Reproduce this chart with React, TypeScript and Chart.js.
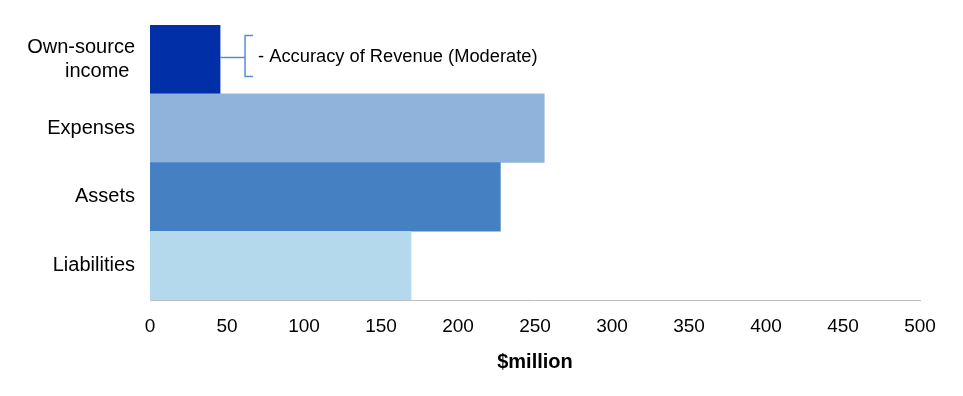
import React, { useEffect, useRef } from "react";
import { Chart, registerables } from "chart.js";

Chart.register(...registerables);

const categories: (string | string[])[] = [["Own-source", "income "], "Expenses", "Assets", "Liabilities"];
const values: number[] = [45.5, 256, 227.5, 169.5];
const barColors: string[] = ["#002FA7", "#8FB3DB", "#4580C3", "#B4D8EC"];
const xTicks: number[] = [0, 50, 100, 150, 200, 250, 300, 350, 400, 450, 500];
const annotationText = "- Accuracy of Revenue (Moderate)";
const axisTitle = "$million";

const FONT = "'Liberation Sans', Arial, sans-serif";

const bracketPlugin = {
  id: "bracketNote",
  afterDatasetsDraw(chart: any) {
    const meta = chart.getDatasetMeta(0);
    const bar = meta.data[0];
    if (!bar) return;
    const ctx = chart.ctx;
    const bx = bar.x;
    const by = bar.y - 2;
    const vx = bx + 25;
    ctx.save();
    ctx.strokeStyle = "#5A8ED0";
    ctx.lineWidth = 1.5;
    ctx.beginPath();
    ctx.moveTo(bx, by);
    ctx.lineTo(vx, by);
    ctx.moveTo(vx + 8, by - 22);
    ctx.lineTo(vx, by - 22);
    ctx.lineTo(vx, by + 19);
    ctx.lineTo(vx + 8, by + 19);
    ctx.stroke();
    ctx.fillStyle = "#000000";
    ctx.font = "18.3px " + FONT;
    ctx.textBaseline = "middle";
    ctx.textAlign = "left";
    ctx.fillText(annotationText, vx + 13, by);
    ctx.restore();
  },
};

export default function App() {
  const ref = useRef<HTMLCanvasElement>(null);
  useEffect(() => {
    if (!ref.current) return;
    const chart = new Chart(ref.current, {
      type: "bar",
      data: {
        labels: categories,
        datasets: [
          {
            data: values,
            backgroundColor: barColors,
            borderWidth: 0,
            barPercentage: 1,
            categoryPercentage: 1,
          },
        ],
      },
      options: {
        indexAxis: "y",
        animation: false,
        responsive: false,
        layout: { padding: { top: 25, right: 43, bottom: 0, left: 0 } },
        plugins: { legend: { display: false }, tooltip: { enabled: false } },
        scales: {
          x: {
            min: 0,
            max: 500,
            afterBuildTicks: (scale: any) => {
              scale.ticks = xTicks.map((v) => ({ value: v }));
            },
            afterFit: (scale: any) => {
              scale.height = 96;
            },
            grid: { display: false, drawTicks: false },
            border: { display: true, color: "#BFBFBF", width: 1 },
            ticks: {
              color: "#000000",
              padding: 15,
              font: { family: FONT, size: 19 },
              maxRotation: 0,
            },
            title: {
              display: true,
              text: axisTitle,
              color: "#000000",
              font: { family: FONT, size: 20, weight: "bold" },
              padding: { top: 0, bottom: 22 },
            },
          },
          y: {
            afterFit: (scale: any) => {
              scale.width = 150;
              scale.paddingTop = 0;
              scale.paddingBottom = 0;
            },
            grid: { display: false, drawTicks: false },
            border: { display: true, color: "#BFBFBF", width: 1 },
            ticks: {
              color: "#000000",
              padding: 15,
              font: { family: FONT, size: 20, lineHeight: 1.2 },
            },
          },
        },
      },
      plugins: [bracketPlugin],
    });
    return () => chart.destroy();
  }, []);
  return (
    <div style={{ position: "absolute", left: 0, top: 0, width: 963, height: 396, background: "#ffffff" }}>
      <canvas ref={ref} width={963} height={396} />
    </div>
  );
}
